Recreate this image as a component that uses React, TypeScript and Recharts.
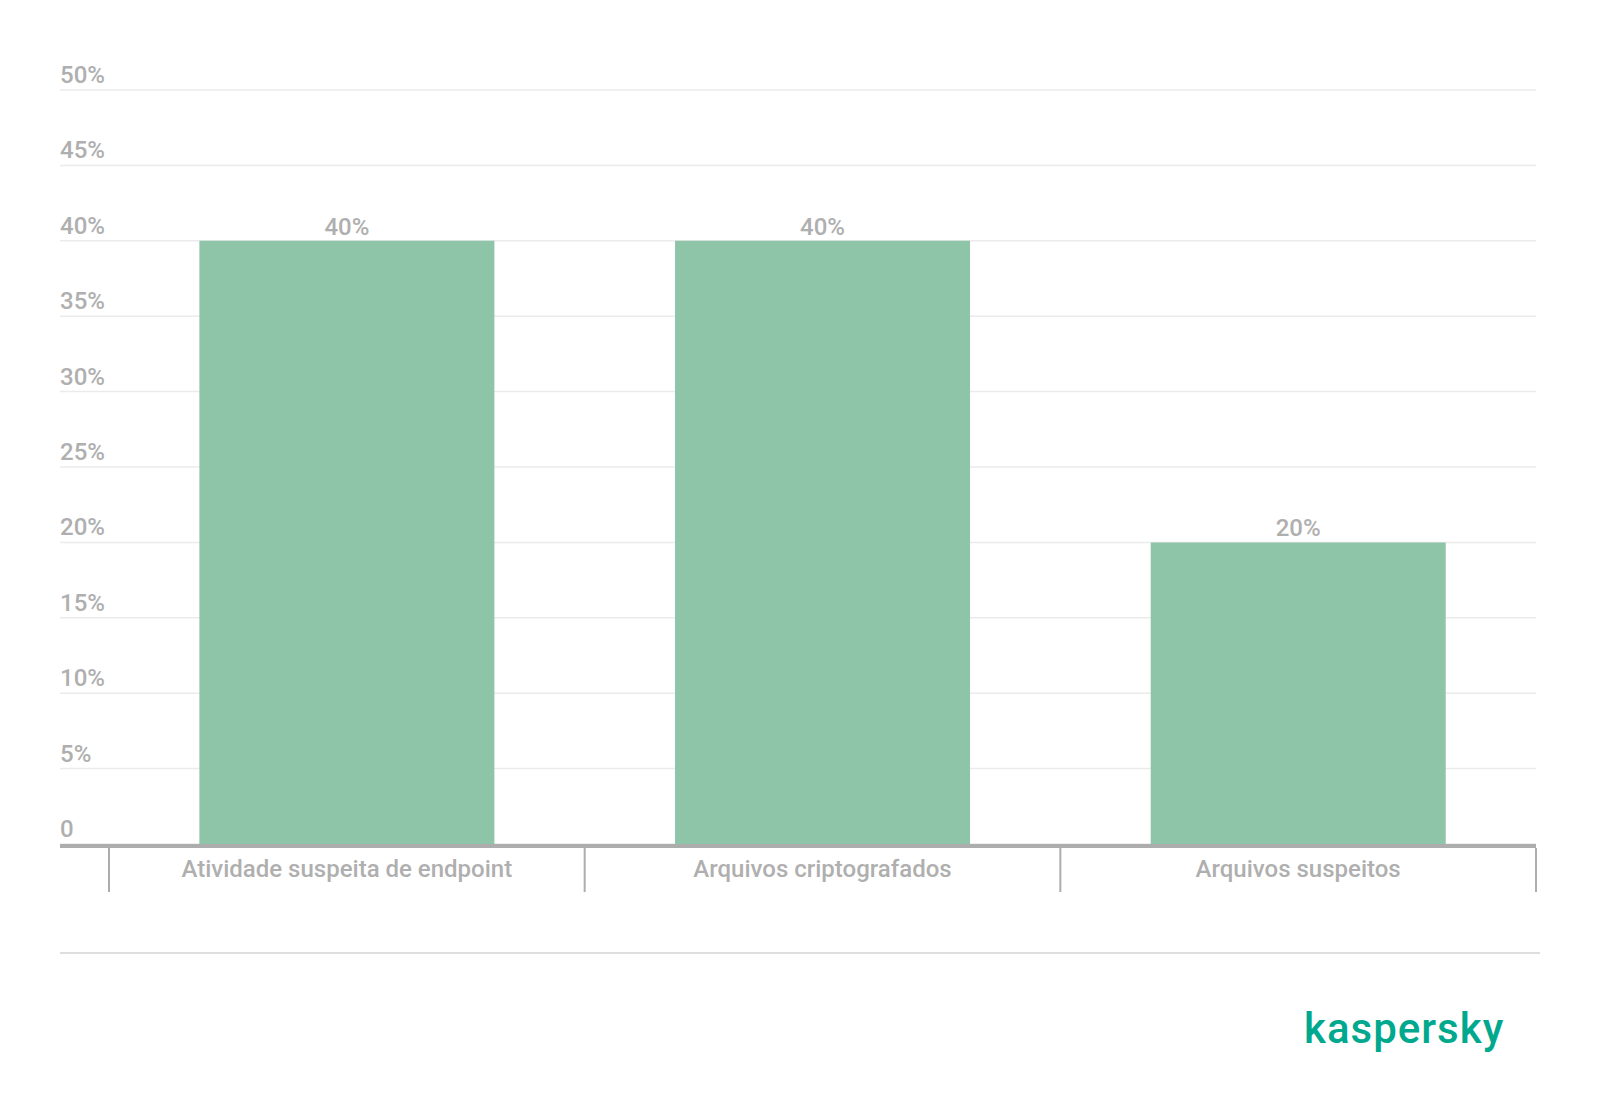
import React from 'react'
import {
  BarChart,
  Bar,
  XAxis,
  YAxis,
  CartesianGrid,
  LabelList,
} from 'recharts'

const categories = [
  'Atividade suspeita de endpoint',
  'Arquivos criptografados',
  'Arquivos suspeitos',
]
const shares = [40, 40, 20]
const yTicks = [0, 5, 10, 15, 20, 25, 30, 35, 40, 45, 50]

const data = categories.map((name, i) => ({ name, value: shares[i] }))

const GREY = '#afafaf'
const FONT = 'Roboto, "Noto Sans", sans-serif'

const pct = (v: number) => (v === 0 ? '0' : `${v}%`)

function YTick({ y, payload }: any) {
  return (
    <text x={60} y={y - 7} fill={GREY} fontSize={24} fontWeight={500} fontFamily={FONT} textAnchor="start">
      {pct(payload.value)}
    </text>
  )
}

function XTick({ x, y, payload, index, visibleTicksCount }: any) {
  const half = payload.offset || 238
  const last = index === visibleTicksCount - 1
  return (
    <g>
      <line x1={x - half} x2={x - half} y1={y + 4} y2={y + 48} stroke="#adadad" strokeWidth={2} />
      {last && (
        <line x1={x + half} x2={x + half} y1={y + 4} y2={y + 48} stroke="#adadad" strokeWidth={2} />
      )}
      <text x={x} y={y + 33} fill={GREY} fontSize={24} fontWeight={500} fontFamily={FONT} textAnchor="middle">
        {payload.value}
      </text>
    </g>
  )
}

export default function App() {
  return (
    <div style={{ position: 'absolute', left: 0, top: 0, width: 1600, height: 1116, background: '#fff' }}>
      <BarChart
        width={1600}
        height={1116}
        data={data}
        margin={{ top: 90, right: 64, bottom: 212, left: 10 }}
        barCategoryGap="19%"
      >
        <CartesianGrid vertical={false} stroke="#ebebeb" strokeWidth={1.5} />
        <XAxis
          dataKey="name"
          padding={{ left: 49, right: 0 }}
          height={60}
          tickSize={0}
          tickMargin={0}
          tickLine={false}
          axisLine={{ stroke: '#adadad', strokeWidth: 4, transform: 'translate(0, 2)' }}
          tick={<XTick />}
          interval={0}
        />
        <YAxis
          width={50}
          domain={[0, 50]}
          ticks={yTicks}
          interval={0}
          axisLine={false}
          tickLine={false}
          tick={<YTick />}
        />
        <Bar dataKey="value" fill="#8ec4a8" isAnimationActive={false}>
          <LabelList
            dataKey="value"
            position="top"
            offset={6}
            formatter={(v: any) => `${v}%`}
            style={{ fill: GREY, fontSize: 24, fontWeight: 500, fontFamily: FONT }}
          />
        </Bar>
      </BarChart>
      <div
        style={{
          position: 'absolute',
          left: 60,
          top: 952,
          width: 1480,
          height: 2,
          background: '#dedede',
        }}
      />
      <div
        style={{
          position: 'absolute',
          left: 1304,
          top: 1004,
          fontFamily: FONT,
          fontSize: 42,
          fontWeight: 500,
          lineHeight: '50px',
          color: '#00a88e',
          letterSpacing: 1,
        }}
      >
        kaspersky
      </div>
    </div>
  )
}
